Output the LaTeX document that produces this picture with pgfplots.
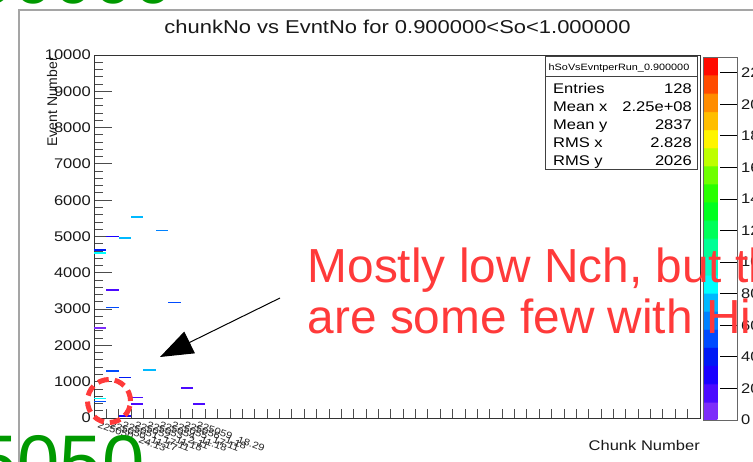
\documentclass[border=0pt]{standalone}
\usepackage{fontspec}
\setmainfont{Liberation Sans}
\newfontfamily\rootfont[FakeStretch=1.18]{Liberation Sans}
\usepackage{pgfplots}
\pgfplotsset{compat=1.18}
\usetikzlibrary{arrows.meta}

\definecolor{annot}{RGB}{255,58,58}
\definecolor{slidegreen}{RGB}{0,153,0}
\definecolor{canvasgray}{RGB}{165,165,165}

% one filled bin of the 2D histogram: a full bin wide, one y-bin high
\pgfdeclareplotmark{binseg}{%
  \pgfpathrectangle{\pgfqpoint{-6.18pt}{-0.8pt}}{\pgfqpoint{12.37pt}{1.6pt}}%
  \pgfusepathqfill}

% 20-level palette, violet -> red, stepped
\pgfplotsset{
  colormap={rootpal}{
    rgb255(0pt)=(125,45,250)   rgb255(49pt)=(125,45,250)
    rgb255(50pt)=(75,10,255)   rgb255(99pt)=(75,10,255)
    rgb255(100pt)=(25,0,255)   rgb255(149pt)=(25,0,255)
    rgb255(150pt)=(0,25,245)   rgb255(199pt)=(0,25,245)
    rgb255(200pt)=(0,75,255)   rgb255(249pt)=(0,75,255)
    rgb255(250pt)=(0,130,255)  rgb255(299pt)=(0,130,255)
    rgb255(300pt)=(0,185,255)  rgb255(349pt)=(0,185,255)
    rgb255(350pt)=(0,255,255)  rgb255(399pt)=(0,255,255)
    rgb255(400pt)=(0,255,205)  rgb255(449pt)=(0,255,205)
    rgb255(450pt)=(0,255,150)  rgb255(499pt)=(0,255,150)
    rgb255(500pt)=(0,255,90)   rgb255(549pt)=(0,255,90)
    rgb255(550pt)=(0,255,30)   rgb255(599pt)=(0,255,30)
    rgb255(600pt)=(40,255,0)   rgb255(649pt)=(40,255,0)
    rgb255(650pt)=(110,255,0)  rgb255(699pt)=(110,255,0)
    rgb255(700pt)=(190,255,0)  rgb255(749pt)=(190,255,0)
    rgb255(750pt)=(255,245,0)  rgb255(799pt)=(255,245,0)
    rgb255(800pt)=(255,190,0)  rgb255(849pt)=(255,190,0)
    rgb255(850pt)=(255,140,0)  rgb255(899pt)=(255,140,0)
    rgb255(900pt)=(255,75,0)   rgb255(949pt)=(255,75,0)
    rgb255(950pt)=(255,10,0)   rgb255(999pt)=(255,10,0)
  }
}

\begin{document}
\begin{tikzpicture}[x=1pt,y=1pt]
\begin{scope}
\clip (0,0) rectangle (753,462);

% canvas edges
\draw[canvasgray, line width=1.3pt] (19,-5) -- (19,452) -- (760,452);

\begin{axis}[
  at={(94pt,44pt)}, anchor=south west,
  scale only axis, width=606pt, height=363pt,
  xmin=0, xmax=49, ymin=0, ymax=10000,
  axis line style={draw=black!80, line width=0.9pt},
  tick align=inside, tick pos=left,
  major tick length=18pt, minor tick length=9pt,
  tick style={black!70, line width=0.9pt},
  xtick={0.5,1.5,...,8.5},
  xticklabels={225050\_24.13,225050\_11.17,225051\_17.11,225052\_11.18,225053\_2.11,225054\_11.18,225055\_17.11,225056\_1.18,225059\_18.29},
  every major x tick/.append style={draw=none},
  minor xtick={1,2,...,48},
  ytick={0,1000,...,10000},
  minor y tick num=4,
  scaled y ticks=false,
  /pgf/number format/assume math mode=true,
  /pgf/number format/1000 sep={},
  yticklabel style={font=\rootfont\fontsize{14}{16}\selectfont, anchor=east, inner sep=0pt, xshift=-3pt, text=black!90},
  xticklabel style={font=\rootfont\fontsize{9.5}{11}\selectfont, rotate=-20, anchor=north west, inner sep=0pt, yshift=-3pt, text=black!85},
  xlabel={Chunk Number},
  xlabel style={font=\rootfont\fontsize{14}{16}\selectfont, at={(axis description cs:1,-0.0882)}, anchor=base east, inner sep=0pt, text=black!90},
  ylabel={Event Number},
  ylabel style={font=\fontsize{14}{16}\selectfont, at={(axis description cs:-0.0693,0.9945)}, anchor=east, inner sep=0pt, text=black!90},
  colormap name=rootpal,
  point meta min=0, point meta max=230,
  colorbar,
  colorbar style={
    at={(parent axis.south east)}, anchor=south west, xshift=-5.5pt, yshift=-2pt,
    width=34pt,
    ytick={0,20,...,220},
    ytick pos=right,
    tick align=inside, major tick length=17pt,
    ytick style={black, line width=0.9pt},
    axis line style={draw=black!60, line width=0.6pt},
    /pgf/number format/assume math mode=true,
    yticklabel style={font=\rootfont\fontsize{14}{16}\selectfont, anchor=west, inner sep=0pt, xshift=4pt, text=black!90},
  },
]
\addplot[scatter, only marks, mark=binseg,
  scatter/use mapped color={draw=none, fill=mapped color},
  point meta=explicit]
  table[x=x, y=y, meta=z] {
x   y    z
0.5 4632 40
0.5 4541 86
0.5 2477 6
0.5 540  86
0.5 449  52
1.5 5000 29
1.5 3532 17
1.5 3045 52
1.5 1293 52
2.5 4954 75
2.5 1118 40
2.5 63   29
3.5 5541 75
3.5 567  17
3.5 385  17
4.5 1329 75
5.5 5164 63
6.5 3183 52
7.5 834  17
8.5 385  17
};
\end{axis}

% title
\node[font=\rootfont\fontsize{18.6}{22}\selectfont, anchor=base, inner sep=0pt, text=black!90]
  at (397.5,428.7) {chunkNo vs EvntNo for 0.900000<So<1.000000};

% statistics box
\draw[black!75, line width=1pt, fill=white] (545,405) rectangle (697,292);
\draw[black!75, line width=0.7pt] (545,386) -- (697,386);
\node[font=\rootfont\fontsize{9.2}{11}\selectfont, anchor=base, inner sep=0pt] at (619,391) {hSoVsEvntperRun\_0.900000};
\begin{scope}[every node/.style={font=\rootfont\fontsize{14}{16}\selectfont, inner sep=0pt}]
\node[anchor=base west] at (553,368) {Entries};
\node[anchor=base east] at (692,368) {128};
\node[anchor=base west] at (553,350) {Mean x};
\node[anchor=base east] at (692,350) {2.25e+08};
\node[anchor=base west] at (553,332) {Mean y};
\node[anchor=base east] at (692,332) {2837};
\node[anchor=base west] at (553,314) {RMS x};
\node[anchor=base east] at (692,314) {2.828};
\node[anchor=base west] at (553,296) {RMS y};
\node[anchor=base east] at (692,296) {2026};
\end{scope}

% annotation
\draw[black, line width=1pt, -{Triangle[length=33pt,width=24pt]}] (280,164) -- (160,105);
\draw[annot, line width=5pt, dash pattern=on 11pt off 6pt] (109,61) circle (21.5);
\node[font=\fontsize{47.8}{52}\selectfont, text=annot, anchor=base west, inner sep=0pt] at (307.5,179) {Mostly low Nch, but there};
\node[font=\fontsize{47.8}{52}\selectfont, text=annot, anchor=base west, inner sep=0pt] at (307.5,128) {are some few with High Nch};

% slide text around the figure
\node[font=\fontsize{76}{80}\selectfont, text=slidegreen, anchor=base west, inner sep=0pt] at (-24.9,-26.7) {5050};
\node[font=\fontsize{72}{76}\selectfont, text=slidegreen, anchor=base west, inner sep=0pt] at (-26.5,458.5) {00000};
\end{scope}
\pgfresetboundingbox
\useasboundingbox (0,0) rectangle (753,462);
\end{tikzpicture}
\end{document}
